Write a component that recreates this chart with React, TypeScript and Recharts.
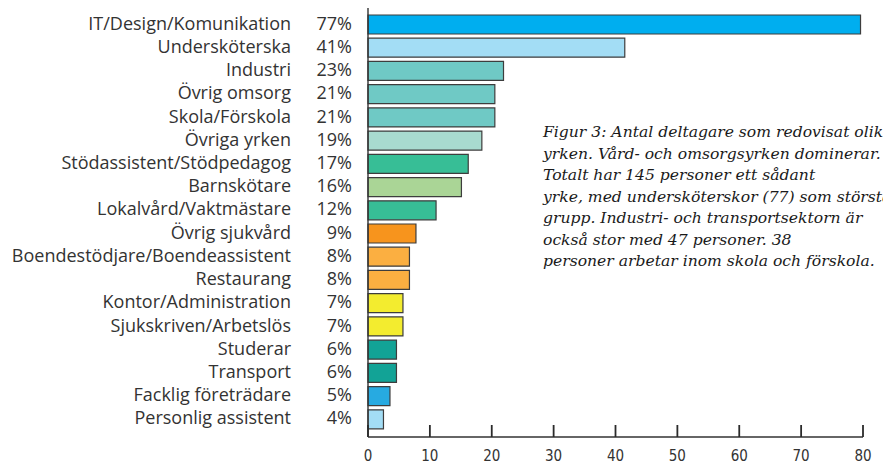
import { BarChart, Bar, XAxis, YAxis, Cell } from "recharts";

const categories = [
  "IT/Design/Komunikation",
  "Undersköterska",
  "Industri",
  "Övrig omsorg",
  "Skola/Förskola",
  "Övriga yrken",
  "Stödassistent/Stödpedagog",
  "Barnskötare",
  "Lokalvård/Vaktmästare",
  "Övrig sjukvård",
  "Boendestödjare/Boendeassistent",
  "Restaurang",
  "Kontor/Administration",
  "Sjukskriven/Arbetslös",
  "Studerar",
  "Transport",
  "Facklig företrädare",
  "Personlig assistent",
];

const percentLabels = [
  "77%", "41%", "23%", "21%", "21%", "19%", "17%", "16%", "12%",
  "9%", "8%", "8%", "7%", "7%", "6%", "6%", "5%", "4%",
];

// bar lengths
const values = [
  79.6, 41.5, 21.9, 20.5, 20.5, 18.4, 16.2, 15.1, 11.0,
  7.75, 6.7, 6.7, 5.65, 5.65, 4.6, 4.6, 3.55, 2.5,
];

const colors = [
  "#00aeef", "#a3ddf5", "#6fc9c5", "#6fc9c5", "#6fc9c5", "#a8dbcf",
  "#37be96", "#aad596", "#37be96", "#f7941d", "#fbaf41", "#fbaf41",
  "#f3ec2f", "#f3ec2f", "#12a396", "#12a396", "#27aae1", "#a3ddf5",
];

const xTicks = [0, 10, 20, 30, 40, 50, 60, 70, 80];

const note = [
  "Figur 3: Antal deltagare som redovisat olika",
  "yrken. Vård- och omsorgsyrken dominerar.",
  "Totalt har 145 personer ett sådant",
  "yrke, med undersköterskor (77) som största",
  "grupp. Industri- och transportsektorn är",
  "också stor med 47 personer. 38",
  "personer arbetar inom skola och förskola.",
];

const data = categories.map((name, i) => ({
  name,
  pct: percentLabels[i],
  value: values[i],
}));

const labelFont = "'Open Sans', 'Noto Sans', sans-serif";
const X_TICK_GAP = 14;

function CategoryTick(props: any) {
  const { x, y, payload, index } = props;
  return (
    <g>
      <text
        x={x - 61}
        y={y}
        dy={-2}
        textAnchor="end"
        dominantBaseline="central"
        fontFamily={labelFont}
        fontSize={18}
        fill="#333"
      >
        {payload.value}
      </text>
      <text
        x={x}
        y={y}
        dy={-2}
        textAnchor="end"
        dominantBaseline="central"
        fontFamily={labelFont}
        fontSize={18}
        fill="#333"
      >
        {percentLabels[index]}
      </text>
    </g>
  );
}

// tick mark drawn as a thin filled rect pointing up into the plot
function ValueTick(props: any) {
  const { x, y, payload } = props;
  const axisY = y - X_TICK_GAP;
  return (
    <g>
      <rect x={x - 0.9} y={axisY - 12} width={1.8} height={12} fill="#2b2b2b" />
      <text
        x={x}
        y={y}
        dy={10}
        textAnchor="middle"
        fontFamily="'DejaVu Sans Condensed', 'Liberation Sans Narrow', sans-serif"
        fontSize={15}
        fill="#333"
      >
        {payload.value}
      </text>
    </g>
  );
}

export default function App() {
  return (
    <div
      style={{
        position: "absolute",
        left: 0,
        top: 0,
        width: 883,
        height: 465,
        background: "#fff",
        overflow: "hidden",
      }}
    >
      <BarChart
        width={883}
        height={465}
        data={data}
        layout="vertical"
        margin={{ top: 8, right: 20, bottom: 0, left: 0 }}
      >
        <XAxis
          type="number"
          domain={[0, 80]}
          ticks={xTicks}
          height={28}
          axisLine={{ stroke: "#333", strokeWidth: 1.4 }}
          tickLine={false}
          tickSize={0}
          tickMargin={X_TICK_GAP}
          tick={<ValueTick />}
        />
        <YAxis
          type="category"
          dataKey="name"
          width={368}
          interval={0}
          padding={{ top: 5, bottom: 6 }}
          axisLine={{ stroke: "#333", strokeWidth: 1.4 }}
          tickLine={false}
          tickSize={0}
          tickMargin={16}
          tick={<CategoryTick />}
        />
        <Bar
          dataKey="value"
          barSize={19}
          stroke="#3d3d3d"
          strokeWidth={1.2}
          isAnimationActive={false}
        >
          {data.map((d, i) => (
            <Cell key={d.name} fill={colors[i]} />
          ))}
        </Bar>
      </BarChart>
      <div
        style={{
          position: "absolute",
          left: 543,
          top: 122,
          fontFamily: "'DejaVu Serif', serif",
          fontStyle: "italic",
          fontSize: 15.6,
          lineHeight: "21.5px",
          color: "#1a1a1a",
          whiteSpace: "nowrap",
        }}
      >
        {note.map((line) => (
          <div key={line}>{line}</div>
        ))}
      </div>
    </div>
  );
}
